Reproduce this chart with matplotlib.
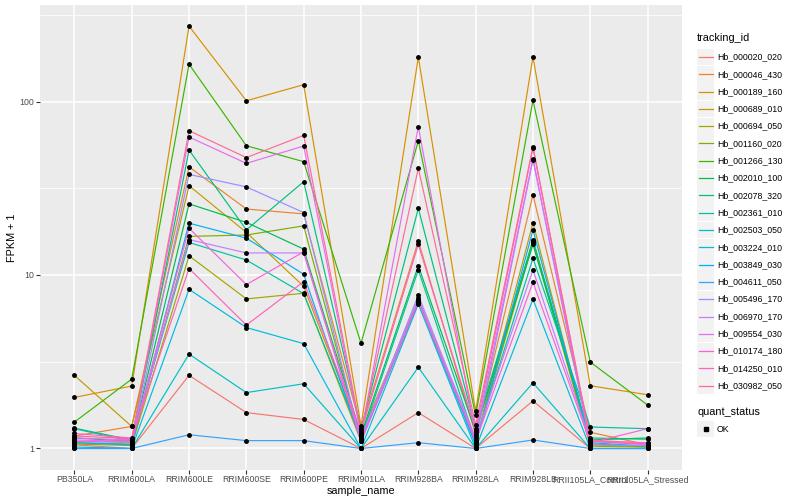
import numpy as np
import matplotlib
matplotlib.use("Agg")
import matplotlib.pyplot as plt
from matplotlib.lines import Line2D
from matplotlib.patches import Rectangle
from matplotlib.ticker import FixedLocator, NullFormatter

plt.rcParams['font.family'] = ['Liberation Sans', 'DejaVu Sans']

samples = ["PB350LA", "RRIM600LA", "RRIM600LE", "RRIM600SE", "RRIM600PE",
           "RRIM901LA", "RRIM928BA", "RRIM928LA", "RRIM928LB",
           "RRII105LA_Control", "RRII105LA_Stressed"]

tracking_ids = ["Hb_000020_020", "Hb_000046_430", "Hb_000189_160", "Hb_000689_010",
                "Hb_000694_050", "Hb_001160_020", "Hb_001266_130", "Hb_002010_100",
                "Hb_002078_320", "Hb_002361_010", "Hb_002503_050", "Hb_003224_010",
                "Hb_003849_030", "Hb_004611_050", "Hb_005496_170", "Hb_006970_170",
                "Hb_009554_030", "Hb_010174_180", "Hb_014250_010", "Hb_030982_050"]

# FPKM + 1 per sample (order of `samples`)
hb_000020_020 = [1.05, 1.00, 2.64, 1.61, 1.47, 1.00, 1.61, 1.00, 1.88, 1.00, 1.00]
hb_000046_430 = [1.18, 1.34, 42.0, 24.0, 22.5, 1.30, 15.7, 1.20, 29.0, 1.24, 1.05]
hb_000189_160 = [1.97, 2.29, 272.0, 101.0, 125.0, 1.35, 180.0, 1.64, 181.0, 2.30, 2.04]
hb_000689_010 = [2.64, 1.34, 32.7, 17.6, 8.6, 1.20, 7.2, 1.10, 20.0, 1.05, 1.02]
hb_000694_050 = [1.06, 1.04, 12.9, 7.28, 7.85, 1.10, 7.1, 1.08, 15.5, 1.03, 1.02]
hb_001160_020 = [1.08, 1.06, 16.7, 17.0, 19.2, 1.12, 6.9, 1.10, 16.0, 1.06, 1.03]
hb_001266_130 = [1.42, 2.51, 164.0, 55.6, 45.0, 4.04, 59.4, 1.55, 101.6, 3.15, 1.78]
hb_002010_100 = [1.15, 1.10, 25.7, 20.1, 14.1, 1.20, 11.3, 1.25, 15.0, 1.12, 1.15]
hb_002078_320 = [1.31, 1.12, 52.5, 18.2, 34.5, 1.30, 24.2, 1.30, 15.8, 1.15, 1.13]
hb_002361_010 = [1.30, 1.10, 15.4, 12.2, 7.8, 1.15, 10.7, 1.10, 12.5, 1.33, 1.30]
hb_002503_050 = [1.00, 1.00, 3.50, 2.10, 2.36, 1.00, 2.94, 1.00, 2.39, 1.00, 1.00]
hb_003224_010 = [1.02, 1.00, 8.27, 4.98, 4.02, 1.00, 6.8, 1.00, 7.25, 1.00, 1.00]
hb_003849_030 = [1.08, 1.05, 19.9, 16.3, 10.1, 1.10, 7.0, 1.05, 18.2, 1.08, 1.03]
hb_004611_050 = [1.00, 1.00, 1.20, 1.11, 1.11, 1.00, 1.08, 1.00, 1.12, 1.00, 1.00]
hb_005496_170 = [1.10, 1.08, 38.0, 32.2, 22.9, 1.10, 7.67, 1.10, 46.3, 1.05, 1.04]
hb_006970_170 = [1.12, 1.10, 16.0, 13.4, 13.4, 1.15, 7.35, 1.15, 10.7, 1.10, 1.05]
hb_009554_030 = [1.15, 1.12, 62.4, 44.0, 55.4, 1.20, 71.6, 1.20, 46.8, 1.10, 1.08]
hb_010174_180 = [1.10, 1.10, 18.6, 8.8, 13.6, 1.10, 7.0, 1.10, 9.1, 1.08, 1.30]
hb_014250_010 = [1.22, 1.15, 10.9, 5.14, 9.15, 1.25, 15.0, 1.28, 54.0, 1.10, 1.06]
hb_030982_050 = [1.18, 1.14, 67.9, 47.5, 63.8, 1.25, 41.2, 1.37, 55.0, 1.12, 1.07]

series = [hb_000020_020, hb_000046_430, hb_000189_160, hb_000689_010, hb_000694_050,
          hb_001160_020, hb_001266_130, hb_002010_100, hb_002078_320, hb_002361_010,
          hb_002503_050, hb_003224_010, hb_003849_030, hb_004611_050, hb_005496_170,
          hb_006970_170, hb_009554_030, hb_010174_180, hb_014250_010, hb_030982_050]

colors = ["#F8766D", "#EA8331", "#D89000", "#C09B00", "#A3A500", "#7CAE00", "#39B600",
          "#00BB4E", "#00BF7D", "#00C1A3", "#00BFC4", "#00BAE0", "#00B0F6", "#35A2FF",
          "#9590FF", "#C77CFF", "#E76BF3", "#FA62DB", "#FF62BC", "#FF6A98"]

W, H = 800, 500
fig = plt.figure(figsize=(W / 100, H / 100), dpi=100)
px_l, px_r, px_t, px_b = 40, 682, 5, 469.6
ax = fig.add_axes([px_l / W, 1 - px_b / H, (px_r - px_l) / W, (px_b - px_t) / H])
ax.set_facecolor("#EBEBEB")

x = np.arange(len(samples))
for vals, c in zip(series, colors):
    ax.plot(x, vals, color=c, lw=0.85, zorder=2, solid_capstyle='butt')
for vals in series:
    ax.plot(x, vals, ls='none', marker='o', ms=2.5, color='black', zorder=3)

ax.set_yscale('log')
allv = np.concatenate([np.asarray(v) for v in series])
lo, hi = np.log10(allv.min()), np.log10(allv.max())
pad = 0.05 * (hi - lo)
ax.set_ylim(10 ** (lo - pad), 10 ** (hi + pad))
ax.set_xlim(-0.6, len(samples) - 0.4)

ax.yaxis.set_major_locator(FixedLocator([1, 10, 100]))
ax.yaxis.set_minor_locator(FixedLocator([10 ** 0.5, 10 ** 1.5, 10 ** 2.5]))
ax.yaxis.set_minor_formatter(NullFormatter())
ax.set_yticklabels(["1", "10", "100"])
ax.set_xticks(x)
ax.set_xticklabels(samples)

ax.grid(True, which='major', color='white', lw=1.1, zorder=0)
ax.grid(True, which='minor', axis='y', color='white', lw=0.55, zorder=0)
ax.set_axisbelow(True)
for s in ax.spines.values():
    s.set_visible(False)
ax.tick_params(axis='both', which='major', length=2.7, width=0.8, color='#333333',
               labelsize=6.3, labelcolor='#4D4D4D', pad=1.5)
ax.tick_params(axis='y', which='minor', length=0)

ax.set_xlabel("sample_name", fontsize=7.8, color='black', labelpad=1.2)
ax.set_ylabel("FPKM + 1", fontsize=7.8, color='black', labelpad=2)

def fx(px):
    return px / W

def fy(py):
    return 1 - py / H

# Legend: tracking_id
fig.text(fx(697), fy(38), "tracking_id", fontsize=7.8, ha='left', va='center')
row_h = 17.3
y0 = 57
for i, (tid, c) in enumerate(zip(tracking_ids, colors)):
    yc = y0 + i * row_h
    fig.add_artist(Rectangle((fx(697), fy(yc + 8.4)), 17 / W, 16.8 / H,
                             transform=fig.transFigure, facecolor='#F2F2F2',
                             edgecolor='none'))
    fig.add_artist(Line2D([fx(698.5), fx(712.5)], [fy(yc), fy(yc)],
                          transform=fig.transFigure, color=c, lw=0.9))
    fig.text(fx(717), fy(yc), tid, fontsize=6.3, ha='left', va='center')

# Legend: quant_status
fig.text(fx(697), fy(412), "quant_status", fontsize=7.8, ha='left', va='center')
fig.add_artist(Rectangle((fx(697), fy(429 + 8.4)), 17 / W, 16.8 / H,
                         transform=fig.transFigure, facecolor='#F2F2F2', edgecolor='none'))
fig.add_artist(Line2D([fx(705.5)], [fy(429)], transform=fig.transFigure,
                      ls='none', marker='s', ms=2.3, color='black'))
fig.text(fx(717), fy(429), "OK", fontsize=6.3, ha='left', va='center')

fig.savefig("out.png", dpi=100)
